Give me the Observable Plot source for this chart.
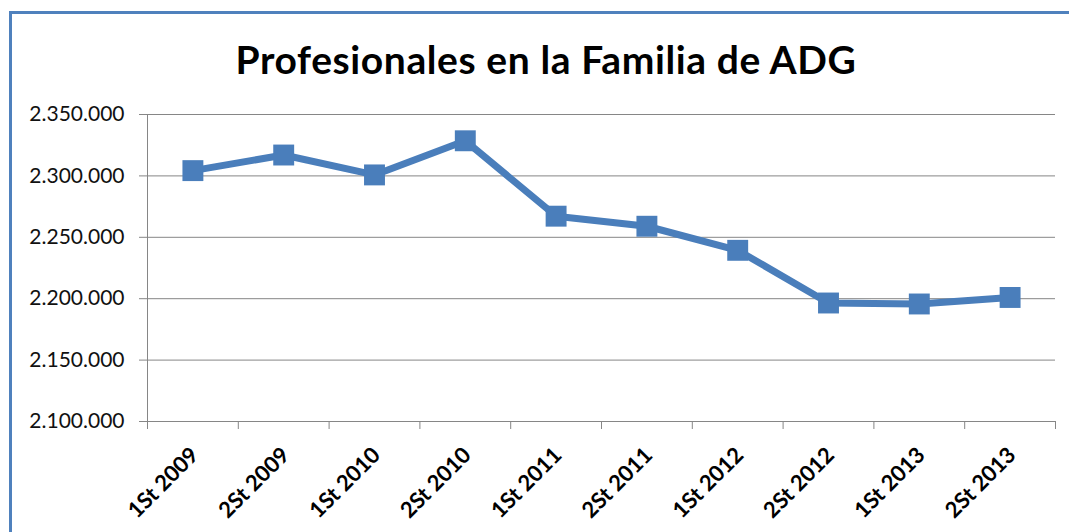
<!DOCTYPE html>
<html><head><meta charset="utf-8">
<script src="https://cdn.jsdelivr.net/npm/d3@7"></script>
<script src="https://cdn.jsdelivr.net/npm/@observablehq/plot@0.6"></script>
<style>
html,body{margin:0;padding:0;background:#fff;overflow:hidden}
#wrap{position:relative;width:1069px;height:532px;overflow:hidden;font-family:Lato,sans-serif}
#frame{position:absolute;left:9px;top:11px;width:1200px;height:700px;border:3px solid #4f81bd;box-sizing:border-box}
#title{position:absolute;left:0;width:1092px;top:40px;text-align:center;font:bold 39px/1 Lato,sans-serif;letter-spacing:0.6px;color:#000;white-space:nowrap}
#chart{position:absolute;left:0;top:0}
</style></head><body>
<div id="wrap"><div id="frame"></div><div id="title">Profesionales en la Familia de ADG</div><div id="chart"></div></div>
<script>
const categories = ["1St 2009","2St 2009","1St 2010","2St 2010","1St 2011","2St 2011","1St 2012","2St 2012","1St 2013","2St 2013"];
const values = [2304300, 2317000, 2300800, 2328600, 2267200, 2259000, 2239400, 2196500, 2195700, 2201000];
const yTicks = [2100000, 2150000, 2200000, 2250000, 2300000, 2350000];

const fmt = d3.formatLocale({decimal:",", thousands:".", grouping:[3], currency:["",""]}).format(",d");
const data = categories.map((c, i) => ({i, c, v: values[i]}));
const boundaries = d3.range(categories.length + 1).map(k => k - 0.5);
const blue = "#4a7ebb";
const grid = "#868686";

const chart = Plot.plot({
  width: 1069, height: 532,
  marginLeft: 147, marginRight: 14, marginTop: 114, marginBottom: 111,
  style: {fontFamily: "Lato, sans-serif", background: "transparent", overflow: "visible"},
  x: {type: "linear", domain: [-0.5, categories.length - 0.5], axis: null},
  y: {domain: [2100000, 2350000], axis: null},
  marks: [
    Plot.gridY(yTicks, {stroke: grid, strokeOpacity: 1}),
    Plot.ruleX([-0.5], {stroke: grid}),
    Plot.ruleY([2100000], {stroke: grid}),
    Plot.axisY(yTicks, {tickSize: 8, tickPadding: 15, tickFormat: fmt, fontSize: 21, stroke: grid, strokeOpacity: 1, fill: "#111", label: null}),
    Plot.axisX(boundaries, {tickSize: 8, tickFormat: () => "", stroke: grid, strokeOpacity: 1, label: null}),
    Plot.line(data, {x: "i", y: "v", stroke: blue, strokeWidth: 7, strokeLinejoin: "round"}),
    Plot.dot(data, {x: "i", y: "v", symbol: "square", r: 11.8, fill: blue}),
    Plot.text(data, {x: "i", text: "c", frameAnchor: "bottom", rotate: -45, textAnchor: "end", lineAnchor: "middle", dy: 30, dx: 2, fontSize: 22, fontWeight: "bold", fill: "#000"})
  ]
});
document.getElementById("chart").appendChild(chart);
</script>
</body></html>
